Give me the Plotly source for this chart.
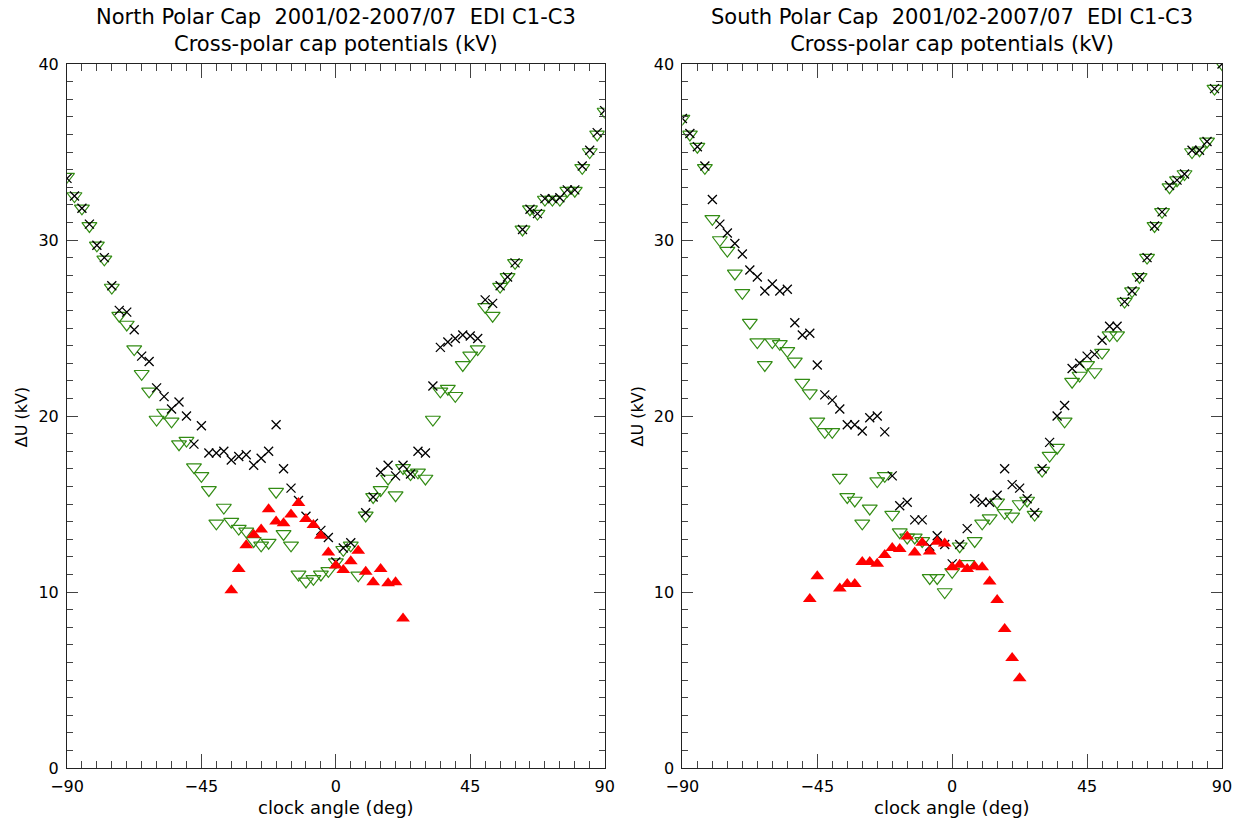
import plotly.graph_objects as go
from plotly.subplots import make_subplots

# ---------------- North polar cap ----------------
x_north_all = [-90, -87.5, -85, -82.5, -80, -77.5, -75, -72.5, -70, -67.5,
               -65, -62.5, -60, -57.5, -55, -52.5, -50, -47.5, -45, -42.5,
               -40, -37.5, -35, -32.5, -30, -27.5, -25, -22.5, -20, -17.5,
               -15, -12.5, -10, -7.5, -5, -2.5, 0, 2.5, 5, 10,
               12.5, 15, 17.5, 20, 22.5, 25, 27.5, 30, 32.5, 35,
               37.5, 40, 42.5, 45, 47.5, 50, 52.5, 55, 57.5, 60,
               62.5, 65, 67.5, 70, 72.5, 75, 77.5, 80, 82.5, 85,
               87.5, 90]
y_north_all = [33.5, 32.5, 31.8, 30.9, 29.7, 29.0, 27.4, 26.0, 25.9, 24.9,
               23.4, 23.1, 21.6, 21.1, 20.4, 20.8, 20.0, 18.4, 19.45, 17.9,
               17.9, 18.0, 17.5, 17.7, 17.8, 17.2, 17.6, 18.0, 19.5, 17.0,
               15.9, 15.2, 14.3, 13.9, 13.5, 13.1, 11.7, 12.5, 12.8, 14.5,
               15.4, 16.8, 17.2, 16.6, 17.2, 16.7, 18.0, 17.9, 21.7, 23.9,
               24.2, 24.4, 24.6, 24.55, 24.4, 26.6, 26.4, 27.4, 27.9, 28.7,
               30.6, 31.75, 31.5, 32.35, 32.35, 32.4, 32.85, 32.85, 34.2, 35.1,
               36.1, 37.35]

x_north_green = [-90, -87.5, -85, -82.5, -80, -77.5, -75, -72.5, -70, -67.5,
                 -65, -62.5, -60, -57.5, -55, -52.5, -50, -47.5, -45, -42.5,
                 -40, -37.5, -35, -32.5, -30, -27.5, -25, -22.5, -20, -17.5,
                 -15, -12.5, -10, -7.5, -5, -2.5, 0, 2.5, 5, 7.5,
                 10, 12.5, 15, 17.5, 20, 22.5, 25, 27.5, 30, 32.5,
                 35, 37.5, 40, 42.5, 45, 47.5, 50, 52.5, 55, 57.5,
                 60, 62.5, 65, 67.5, 70, 72.5, 75, 77.5, 80, 82.5,
                 85, 87.5, 90]
y_north_green = [33.6, 32.5, 31.8, 30.8, 29.7, 28.9, 27.3, 25.7, 25.2, 23.8,
                 22.4, 21.4, 19.8, 20.2, 19.7, 18.4, 18.6, 17.1, 16.6, 15.8,
                 13.9, 14.8, 14.0, 13.6, 13.45, 12.9, 12.65, 12.8, 15.7, 13.3,
                 12.65, 11.0, 10.6, 10.75, 11.0, 11.2, 11.7, 12.4, 12.65, 10.95,
                 14.35, 15.4, 15.8, 16.45, 15.5, 17.05, 16.7, 16.8, 16.45, 19.8,
                 21.4, 21.55, 21.15, 22.9, 23.45, 23.8, 26.2, 25.7, 27.35, 27.9,
                 28.7, 30.6, 31.75, 31.5, 32.3, 32.3, 32.3, 32.8, 32.8, 34.1,
                 35.0, 36.0, 37.3]

x_north_red = [-35, -32.5, -30, -27.5, -25, -22.5, -20, -17.5, -15, -12.5,
               -10, -7.5, -5, -2.5, 0, 2.5, 5, 7.5, 10, 12.5,
               15, 17.5, 20, 22.5]
y_north_red = [10.1, 11.3, 12.65, 13.25, 13.55, 14.7, 14.0, 13.9, 14.4, 15.05,
               14.15, 13.8, 13.2, 12.25, 11.5, 11.25, 11.75, 12.35, 11.15, 10.55,
               11.3, 10.5, 10.55, 8.5]

# ---------------- South polar cap ----------------
x_south_all = [-90, -87.5, -85, -82.5, -80, -77.5, -75, -72.5, -70, -67.5,
               -65, -62.5, -60, -57.5, -55, -52.5, -50, -47.5, -45, -42.5,
               -40, -37.5, -35, -32.5, -30, -27.5, -25, -22.5, -20, -17.5,
               -15, -12.5, -10, -7.5, -5, -2.5, 0, 2.5, 5, 7.5,
               10, 12.5, 15, 17.5, 20, 22.5, 25, 27.5, 30, 32.5,
               35, 37.5, 40, 42.5, 45, 47.5, 50, 52.5, 55, 57.5,
               60, 62.5, 65, 67.5, 70, 72.5, 75, 77.5, 80, 82.5,
               85, 87.5, 90]
y_south_all = [36.9, 36.05, 35.3, 34.2, 32.3, 30.9, 30.4, 29.8, 29.2, 28.3,
               27.9, 27.1, 27.5, 27.1, 27.2, 25.3, 24.6, 24.7, 22.9, 21.2,
               20.9, 20.4, 19.5, 19.5, 19.15, 19.9, 20.0, 19.1, 16.6, 14.9,
               15.1, 14.1, 14.1, 12.6, 13.2, 12.7, 11.6, 12.7, 13.6, 15.3,
               15.1, 15.1, 15.5, 17.0, 16.1, 15.9, 15.3, 14.5, 17.0, 18.5,
               20.0, 20.6, 22.7, 23.0, 23.4, 23.5, 24.3, 25.1, 25.1, 26.5,
               27.1, 27.9, 29.0, 30.8, 31.6, 33.1, 33.4, 33.75, 35.1, 35.1,
               35.6, 38.6, 40.0]

x_south_green = [-90, -87.5, -85, -82.5, -80, -77.5, -75, -72.5, -70, -67.5,
                 -65, -62.5, -60, -57.5, -55, -52.5, -50, -47.5, -45, -42.5,
                 -40, -37.5, -35, -32.5, -30, -27.5, -25, -22.5, -20, -17.5,
                 -15, -12.5, -10, -7.5, -5, -2.5, 0, 2.5, 5, 7.5,
                 10, 12.5, 15, 17.5, 20, 22.5, 25, 27.5, 30, 32.5,
                 35, 37.5, 40, 42.5, 45, 47.5, 50, 52.5, 55, 57.5,
                 60, 62.5, 65, 67.5, 70, 72.5, 75, 77.5, 80, 82.5,
                 85, 87.5, 90]
y_south_green = [36.9, 36.0, 35.3, 34.1, 31.2, 30.0, 29.4, 28.1, 27.0, 25.3,
                 24.2, 22.9, 24.2, 24.1, 23.7, 23.1, 21.9, 21.3, 19.7, 19.1,
                 19.1, 16.5, 15.4, 15.2, 13.9, 14.75, 16.3, 16.6, 14.4, 13.4,
                 13.1, 13.1, 12.9, 10.8, 10.8, 10.0, 11.15, 12.6, 11.6, 12.9,
                 13.9, 14.2, 15.1, 14.5, 14.3, 15.0, 15.2, 14.4, 16.9, 17.75,
                 18.2, 19.7, 21.95, 22.3, 22.9, 22.5, 23.6, 24.6, 24.6, 26.5,
                 27.1, 27.9, 29.0, 30.8, 31.6, 33.0, 33.4, 33.75, 35.0, 35.1,
                 35.6, 38.6, 40.0]

x_south_red = [-47.5, -45, -37.5, -35, -32.5, -30, -27.5, -25, -22.5, -20,
               -17.5, -15, -12.5, -10, -7.5, -5, -2.5, 0, 2.5, 5,
               7.5, 10, 12.5, 15, 17.5, 20, 22.5]
y_south_red = [9.6, 10.9, 10.2, 10.45, 10.45, 11.7, 11.7, 11.6, 12.1, 12.5,
               12.45, 13.15, 12.25, 12.8, 12.3, 12.85, 12.75, 11.4, 11.55, 11.3,
               11.45, 11.4, 10.6, 9.55, 7.9, 6.25, 5.1]

x_ticks = [-90, -45, 0, 45, 90]
y_ticks = [0, 10, 20, 30, 40]
title_line1 = ["North Polar Cap  2001/02-2007/07  EDI C1-C3",
               "South Polar Cap  2001/02-2007/07  EDI C1-C3"]
title_line2 = "Cross-polar cap potentials (kV)"
x_label = "clock angle (deg)"
y_label = "ΔU (kV)"

FONT = "DejaVu Sans"
GREEN = "#338c14"

fig = make_subplots(rows=1, cols=2, horizontal_spacing=0.0672)

panels = [
    (x_north_all, y_north_all, x_north_green, y_north_green, x_north_red, y_north_red),
    (x_south_all, y_south_all, x_south_green, y_south_green, x_south_red, y_south_red),
]
for i, (xa, ya, xg, yg, xr, yr) in enumerate(panels, start=1):
    fig.add_trace(go.Scatter(x=xg, y=yg, mode="markers",
                             marker=dict(symbol="triangle-down-open", size=13,
                                         color=GREEN, line=dict(width=1.2, color=GREEN))),
                  row=1, col=i)
    fig.add_trace(go.Scatter(x=xa, y=ya, mode="markers",
                             marker=dict(symbol="x-thin-open", size=9,
                                         color="black", line=dict(width=1.3, color="black"))),
                  row=1, col=i)
    fig.add_trace(go.Scatter(x=xr, y=yr, mode="markers",
                             marker=dict(symbol="triangle-up", size=12,
                                         color="#ff0000", line=dict(width=0))),
                  row=1, col=i)

axis_common = dict(showgrid=False, zeroline=False, showline=True, linecolor="#222",
                   linewidth=1, mirror="allticks", ticks="inside", tickcolor="#444",
                   tickfont=dict(family=FONT, size=16, color="black"))
for i in (1, 2):
    fig.update_xaxes(range=[-90, 90], tickvals=x_ticks, ticklen=14,
                     ticklabelstandoff=4,
                     minor=dict(dtick=5, ticklen=7, ticks="inside", tickcolor="#444"),
                     row=1, col=i, **axis_common)
    fig.update_yaxes(range=[0, 40], tickvals=y_ticks, ticklen=11,
                     ticklabelstandoff=4,
                     minor=dict(dtick=1, ticklen=6, ticks="inside", tickcolor="#444"),
                     row=1, col=i, **axis_common)

fig.update_xaxes(domain=[0.0, 0.4655], row=1, col=1)
fig.update_xaxes(domain=[0.5328, 1.0], row=1, col=2)

# plot area in page pixels: x 67..1227, y 64..768 (1160 x 704)
annotations = []
for dom_c, ylab_x, t1 in [(0.2328, -0.0388, title_line1[0]), (0.7664, 0.494, title_line1[1])]:
    annotations.append(dict(text=t1 + "<br>" + title_line2, x=dom_c, y=1.0866,
                            xref="paper", yref="paper",
                            xanchor="center", yanchor="top",
                            showarrow=False, font=dict(family=FONT, size=21, color="black")))
    annotations.append(dict(text=x_label, x=dom_c, y=-0.0568, xref="paper", yref="paper",
                            xanchor="center", yanchor="middle",
                            showarrow=False, font=dict(family=FONT, size=18, color="black")))
    annotations.append(dict(text=y_label, x=ylab_x, y=0.4986, xref="paper", yref="paper",
                            xanchor="center", yanchor="middle",
                            textangle=-90, showarrow=False,
                            font=dict(family=FONT, size=16, color="black")))

fig.update_layout(width=1244, height=823, showlegend=False,
                  paper_bgcolor="white", plot_bgcolor="white",
                  margin=dict(l=67, r=17, t=64, b=55),
                  annotations=annotations)

fig.write_html("out.html", config={"displayModeBar": False},
               post_script="document.body.style.margin='0';document.body.style.overflow='hidden';")
